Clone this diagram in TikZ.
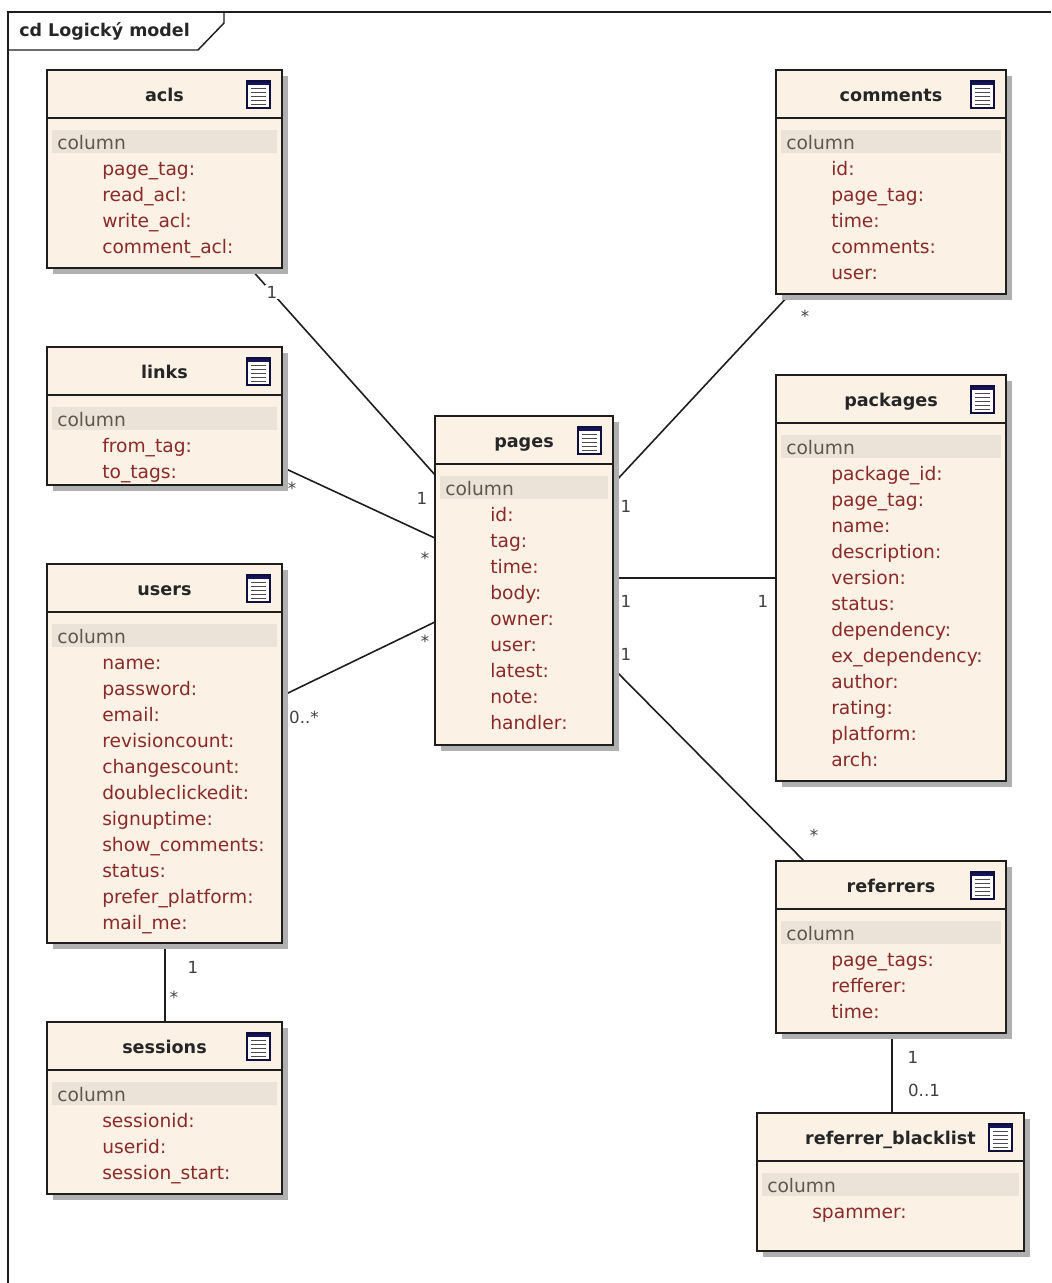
\documentclass[tikz,border=0pt]{standalone}
\usepackage{fontspec}
\setmainfont{DejaVu Sans}
\usetikzlibrary{calc}
\definecolor{boxfill}{HTML}{FBF1E5}
\definecolor{bandfill}{HTML}{EBE3D8}
\definecolor{shadowgray}{HTML}{B0B0B0}
\definecolor{attrred}{HTML}{8A2A2A}
\definecolor{colgray}{HTML}{5E574E}
\definecolor{linedark}{HTML}{1E1E1E}
\definecolor{iconnavy}{HTML}{14145A}
\pgfdeclarelayer{connlayer}
\pgfdeclarelayer{shadowlayer}
\pgfsetlayers{connlayer,shadowlayer,main}
\tikzset{
  tablebox/.style={draw=linedark,line width=1.1pt,fill=boxfill,inner sep=0pt,outer sep=0pt},
  titletext/.style={font=\fontsize{13.2}{15}\selectfont\bfseries,text=black!85,inner sep=0pt,anchor=base},
  coltext/.style={font=\fontsize{14}{16}\selectfont,text=colgray,inner sep=0pt,anchor=base west},
  attrtext/.style={font=\fontsize{14}{16}\selectfont,text=attrred,inner sep=0pt,anchor=base west},
  multtext/.style={font=\fontsize{12.5}{14}\selectfont,text=black!75,inner sep=1pt},
  conn/.style={draw=linedark,line width=1.2pt},
  framed/.style={draw=linedark,line width=1.1pt}
}
\newcommand{\umltable}[7]{%
  \pgfmathsetmacro{\bw}{(#4-#2)*0.75}
  \pgfmathsetmacro{\bh}{(#5-#3)*0.75}
  \pgfmathsetmacro{\cx}{(#2+#4)/2}
  \pgfmathsetmacro{\cy}{(#3+#5)/2}
  \node[tablebox,minimum width=\bw pt,minimum height=\bh pt] (#1) at (\cx,\cy) {};
  \begin{pgfonlayer}{shadowlayer}
    \fill[shadowgray] (#2+6,#3+6) rectangle (#4+6,#5+6);
  \end{pgfonlayer}
  \draw[framed] (#2,#3+48) -- (#4,#3+48);
  \fill[bandfill] (#2+5,#3+60) rectangle (#4-5,#3+83);
  \node[titletext] (#1-title) at (\cx,#3+31) {#6};
  % icon
  \fill[white] (#4-35,#3+11) rectangle (#4-12,#3+38);
  \fill[iconnavy] (#4-35,#3+11) rectangle (#4-12,#3+15);
  \draw[line width=1pt,draw=iconnavy!70!black] (#4-35,#3+11) rectangle (#4-12,#3+38);
  \foreach \ry in {18.5,22.5,26.5,30.5,34.5}{
    \draw[line width=1pt,draw=black!70] (#4-31,#3+\ry) -- (#4-16,#3+\ry);
  }
  \node[coltext] (#1-col) at (#2+10,#3+79.5) {column};
  \foreach \attr [count=\ri] in {#7}{
    \node[attrtext] (#1-r\ri) at (#2+55,#3+79.5+26*\ri) {\attr};
  }
}
\begin{document}
\begin{tikzpicture}[x=0.75pt,y=-0.75pt]
\useasboundingbox (0,0) rectangle (1051,1283);
% frame
\draw[framed] (1051,12) -- (8,12) -- (8,1283);
\draw[framed] (8,50) -- (198,50) -- (224,23) -- (224,12);
\node[font=\fontsize{13.1}{15}\selectfont\bfseries,text=black!85,inner sep=0pt,anchor=base west] (frametitle) at (19,36.5) {cd Logický model};

\umltable{acls}{47}{70}{282}{268}{acls}{page\_tag:,read\_acl:,write\_acl:,comment\_acl:}
\umltable{links}{47}{347}{282}{485}{links}{from\_tag:,to\_tags:}
\umltable{users}{47}{564}{282}{943}{users}{name:,password:,email:,revisioncount:,changescount:,doubleclickedit:,signuptime:,show\_comments:,status:,prefer\_platform:,mail\_me:}
\umltable{sessions}{47}{1022}{282}{1194}{sessions}{sessionid:,userid:,session\_start:}
\umltable{pages}{435}{416}{613}{745}{pages}{id:,tag:,time:,body:,owner:,user:,latest:,note:,handler:}
\umltable{comments}{776}{70}{1006}{294}{comments}{id:,page\_tag:,time:,comments:,user:}
\umltable{packages}{776}{375}{1006}{781}{packages}{package\_id:,page\_tag:,name:,description:,version:,status:,dependency:,ex\_dependency:,author:,rating:,platform:,arch:}
\umltable{referrers}{776}{861}{1006}{1033}{referrers}{page\_tags:,refferer:,time:}
\umltable{blacklist}{757}{1113}{1024}{1251}{referrer\_blacklist}{spammer:}

\begin{pgfonlayer}{connlayer}
  \draw[conn] ($(acls.south west)!0.864!(acls.south east)$) -- ($(pages.north west)!0.179!(pages.south west)$);
  \draw[conn] ($(links.north east)!0.87!(links.south east)$) -- ($(pages.north west)!0.371!(pages.south west)$);
  \draw[conn] ($(users.north east)!0.348!(users.south east)$) -- ($(pages.north west)!0.626!(pages.south west)$);
  \draw[conn] ($(comments.south west)!0.061!(comments.south east)$) -- ($(pages.north east)!0.207!(pages.south east)$);
  \coordinate (pagesE) at ($(pages.north east)!0.492!(pages.south east)$);
  \draw[conn] (pagesE) -- (pagesE -| packages.west);
  \draw[conn] ($(pages.north east)!0.766!(pages.south east)$) -- ($(referrers.north west)!0.122!(referrers.north east)$);
  \coordinate (usersS) at ($(users.south west)!0.502!(users.south east)$);
  \draw[conn] (usersS) -- (usersS |- sessions.north);
  \coordinate (refS) at ($(referrers.south west)!0.504!(referrers.south east)$);
  \draw[conn] (refS) -- (refS |- blacklist.north);
\end{pgfonlayer}

\node[multtext,fill=white] (m1) at (272,292) {1};
\node[multtext] (m2) at (422,498) {1};
\node[multtext] (m3) at (292,488) {*};
\node[multtext] (m4) at (425,558) {*};
\node[multtext] (m5) at (425,641) {*};
\node[multtext] (m6) at (304,717) {0..*};
\node[multtext] (m7) at (805,316) {*};
\node[multtext] (m8) at (626,506) {1};
\node[multtext] (m9) at (626,601) {1};
\node[multtext] (m10) at (763,601) {1};
\node[multtext] (m11) at (626,654) {1};
\node[multtext] (m12) at (814,835) {*};
\node[multtext] (m13) at (193,967) {1};
\node[multtext] (m14) at (174,997) {*};
\node[multtext] (m15) at (913,1057) {1};
\node[multtext] (m16) at (924,1090) {0..1};
\end{tikzpicture}
\end{document}
